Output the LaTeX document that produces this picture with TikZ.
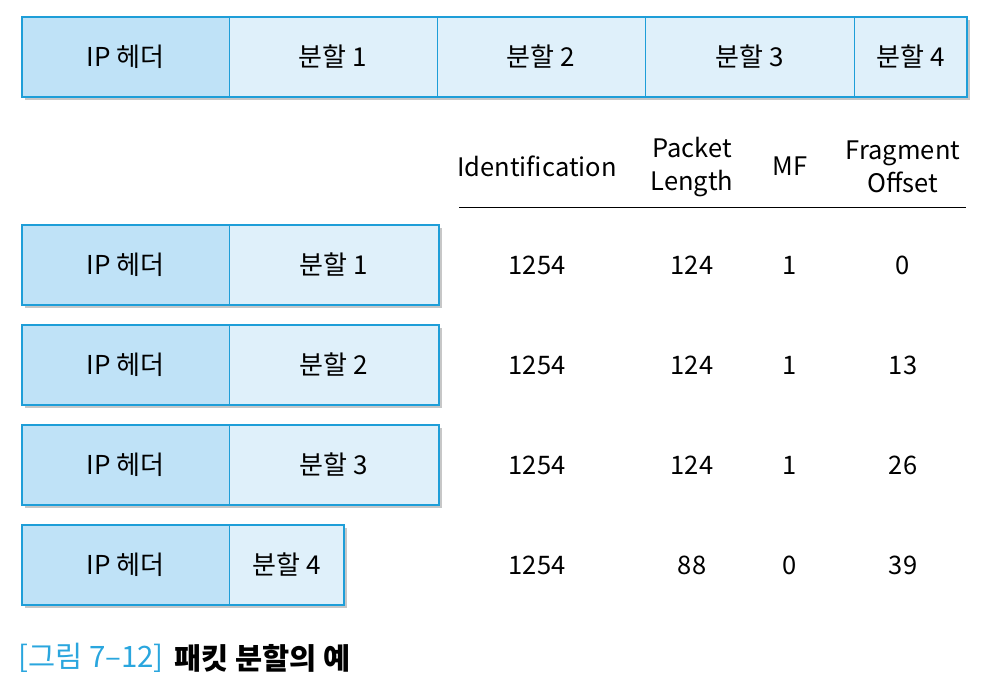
\documentclass[tikz,border=0pt]{standalone}
\usepackage{fontspec}
\setmainfont{Noto Sans CJK KR}
\usetikzlibrary{positioning,backgrounds}

\definecolor{lineblue}{HTML}{1E9ED8}
\definecolor{hdrfill}{HTML}{BFE2F7}
\definecolor{segfill}{HTML}{DFF0FA}
\definecolor{capblue}{HTML}{2AA6DE}

\tikzset{
  cell/.style={draw=lineblue, line width=0.8pt, minimum height=80pt, inner sep=0pt, outer sep=0pt,
    font=\fontsize{26}{30}\selectfont},
  hdr/.style={cell, fill=hdrfill, minimum width=207pt},
  seg/.style={cell, fill=segfill},
  frame/.style={draw=lineblue, line width=2pt},
  shade/.style={fill=black!22},
  val/.style={font=\fontsize{25.5}{33}\selectfont, align=center}
}

\begin{document}
\begin{tikzpicture}[x=1pt,y=-1pt]
  \useasboundingbox (0,0) rectangle (989,697);

  % whole packet
  \node[hdr, anchor=west] (th) at (22,57) {IP~헤더};
  \node[seg, minimum width=208pt, right=0pt of th] (t1) {분할~1};
  \node[seg, minimum width=208pt, right=0pt of t1] (t2) {분할~2};
  \node[seg, minimum width=209pt, right=0pt of t2] (t3) {분할~3};
  \node[seg, minimum width=113pt, right=0pt of t3] (t4) {분할~4};
  \draw[frame] (th.north west) rectangle (t4.south east);
  \begin{scope}[on background layer]
    \fill[shade] ([shift={(3,3)}]th.north west) rectangle ([shift={(3,3)}]t4.south east);
  \end{scope}

  % fragments
  \foreach \i/\y/\w in {1/265/210, 2/365/210, 3/465/210, 4/565/115} {
    \node[hdr, anchor=west] (h\i) at (22,\y) {IP~헤더};
    \node[seg, minimum width=\w pt, right=0pt of h\i] (f\i) {분할~\i};
    \draw[frame] (h\i.north west) rectangle (f\i.south east);
    \begin{scope}[on background layer]
      \fill[shade] ([shift={(3,3)}]h\i.north west) rectangle ([shift={(3,3)}]f\i.south east);
    \end{scope}
  }

  % table
  \node[val] (cid) at (537,166) {Identification};
  \node[val] (clen) at (692,167) {Packet\\Length};
  \node[val] (cmf) at (790,166) {MF};
  \node[val] (coff) at (903,167) {Fragment\\Offset};
  \coordinate (rulel) at (459,207);
  \coordinate (ruler) at (966,207);
  \draw[line width=1pt] (rulel) -- (ruler);

  \foreach \i/\y/\l/\m/\o in {1/265/124/1/0, 2/365/124/1/13, 3/465/124/1/26, 4/565/88/0/39} {
    \node[val] (id\i) at (537,\y) {1254};
    \node[val] (len\i) at (692,\y) {\l};
    \node[val] (mf\i) at (790,\y) {\m};
    \node[val] (off\i) at (903,\y) {\o};
  }

  % caption
  \node[anchor=west, inner sep=0pt, text=capblue, font=\fontsize{29.5}{34}\selectfont] (capn) at (18,658) {[그림 7–12]};
  \node[right=10pt of capn, inner sep=0pt, font=\fontsize{29.5}{34}\selectfont\bfseries] (capt) {패킷 분할의 예};
\end{tikzpicture}
\end{document}
